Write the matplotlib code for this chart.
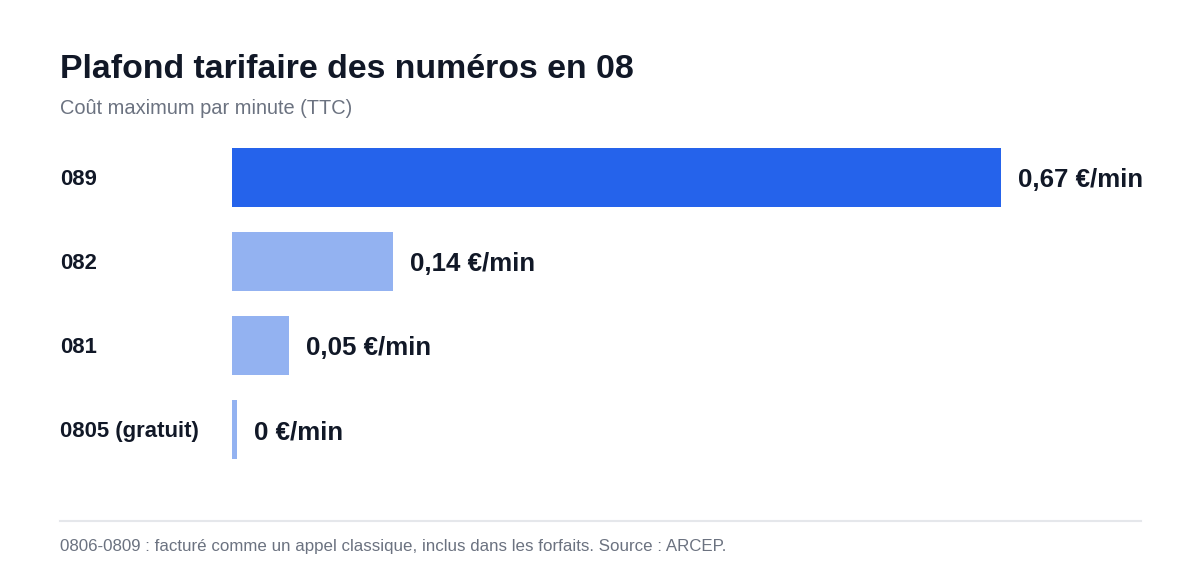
import matplotlib
matplotlib.use("Agg")
import matplotlib.pyplot as plt

plt.rcParams["font.family"] = ["Liberation Sans", "DejaVu Sans"]

categories = ["089", "082", "081", "0805 (gratuit)"]
values = [0.67, 0.14, 0.05, 0.0]
value_labels = ["0,67 €/min", "0,14 €/min", "0,05 €/min", "0 €/min"]

W, H = 1200, 576
fig = plt.figure(figsize=(W / 100, H / 100), dpi=100)

# axes placed in pixel units
left_px, right_px = 232, 1141
top_px, bottom_px = 135.5, 471.5
ax = fig.add_axes([left_px / W, 1 - bottom_px / H,
                   (right_px - left_px) / W, (bottom_px - top_px) / H])
px_per_unit = 1148
ax.set_xlim(0, (right_px - left_px) / px_per_unit)
ax.set_ylim(len(categories) - 0.5, -0.5)
ax.axis("off")

colors = ["#2563EB"] + ["#93B2F1"] * (len(categories) - 1)
min_w = 5 / px_per_unit
widths = [max(v, min_w) for v in values]
ax.barh(range(len(categories)), widths, height=59 / 84, color=colors)

for i, (w, lab) in enumerate(zip(widths, value_labels)):
    ax.text(w + 17 / px_per_unit, i, lab, ha="left", va="center_baseline",
            fontsize=18.6, fontweight="bold", color="#111827", clip_on=False)
    fig.text(60 / W, 1 - (177 + 84 * i) / H, categories[i], ha="left",
             va="center_baseline", fontsize=15.9, fontweight="bold", color="#111827")

fig.text(60 / W, 1 - 78.5 / H, "Plafond tarifaire des numéros en 08", ha="left",
         va="baseline", fontsize=24.4, fontweight="bold", color="#111827")
fig.text(60 / W, 1 - 114.5 / H, "Coût maximum par minute (TTC)", ha="left",
         va="baseline", fontsize=14.4, color="#6B7280")

fig.add_artist(plt.Line2D([60 / W, 1141 / W], [1 - 521 / H, 1 - 521 / H],
                          color="#E5E7EB", linewidth=1.5))
fig.text(60 / W, 1 - 550.5 / H,
         "0806-0809 : facturé comme un appel classique, inclus dans les forfaits. Source : ARCEP.",
         ha="left", va="baseline", fontsize=12.2, color="#6B7280")

fig.savefig("out.png", dpi=100, facecolor="white")
